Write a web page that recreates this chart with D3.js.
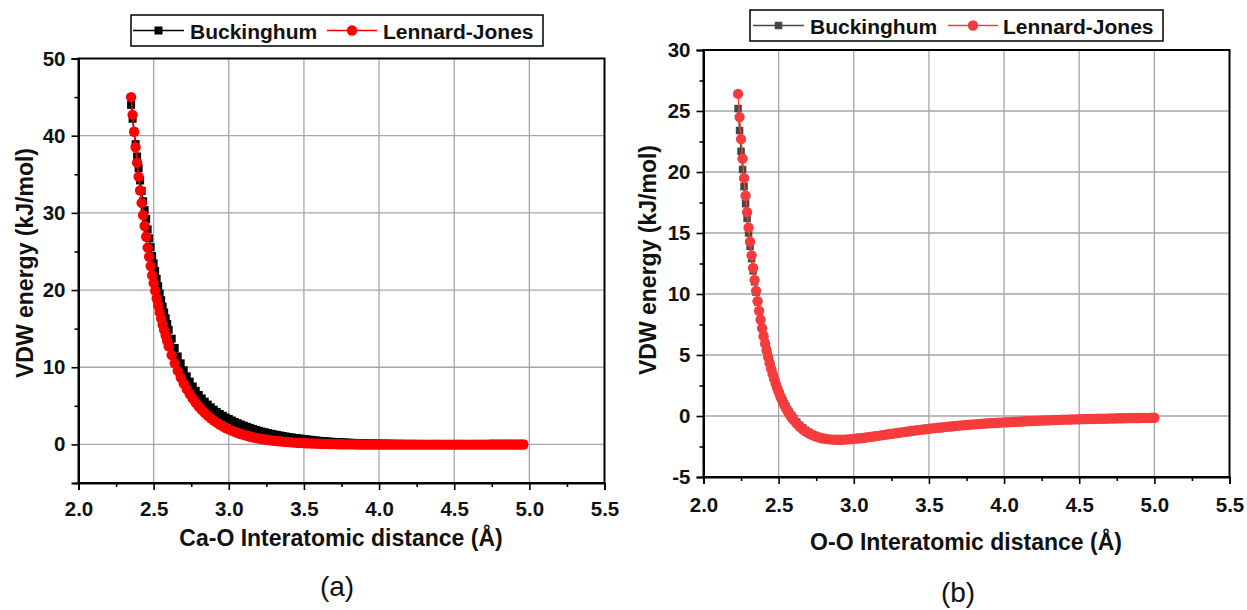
<!DOCTYPE html>
<html><head><meta charset="utf-8">
<script src="https://cdn.jsdelivr.net/npm/d3@7"></script>
<style>
html,body{margin:0;padding:0;background:#fff;}
svg text{font-family:"Liberation Sans",Arial,sans-serif;}
</style></head>
<body>
<svg id="chart" width="1247" height="610"></svg>
<script>
// ---------------- DATA ----------------
// Panel (a): Ca-O
const xA = [2.35,2.36,2.37,2.38,2.39,2.40,2.41,2.42,2.43,2.44,2.45,2.46,2.47,2.48,2.49,2.50,2.51,2.52,2.53,2.54,2.55,2.56,2.57,2.58,2.59,2.60,
2.62,2.64,2.66,2.68,2.70,2.72,2.74,2.76,2.78,2.80,
2.82,2.84,2.86,2.88,2.90,2.92,2.94,2.96,2.98,3.00,
3.02,3.04,3.06,3.08,3.10,3.12,3.14,3.16,3.18,3.20,
3.22,3.24,3.26,3.28,3.30,3.32,3.34,3.36,3.38,3.40,
3.42,3.44,3.46,3.48,3.50,3.52,3.54,3.56,3.58,3.60,
3.62,3.64,3.66,3.68,3.70,3.72,3.74,3.76,3.78,3.80,
3.82,3.84,3.86,3.88,3.90,3.92,3.94,3.96,3.98,4.00,
4.02,4.04,4.06,4.08,4.10,4.12,4.14,4.16,4.18,4.20,
4.22,4.24,4.26,4.28,4.30,4.32,4.34,4.36,4.38,4.40,
4.42,4.44,4.46,4.48,4.50,4.52,4.54,4.56,4.58,4.60,
4.62,4.64,4.66,4.68,4.70,4.72,4.74,4.76,4.78,4.80,
4.82,4.84,4.86,4.88,4.90,4.92,4.94,4.96];
const buckinghamA = [44.0,42.2,40.5,38.9,37.3,35.8,34.2,32.85,31.5,30.35,29.2,27.85,26.7,25.55,24.4,23.45,22.45,21.45,20.5,19.55,18.7,17.85,17.1,16.35,15.6,14.85,
13.7,12.5,11.4,10.5,9.6,8.82,8.14,7.51,6.94,6.41,
5.96,5.54,5.16,4.81,4.49,4.21,3.95,3.71,3.49,3.30,
3.10,2.91,2.74,2.58,2.43,2.28,2.14,2.01,1.88,1.77,
1.66,1.57,1.47,1.38,1.30,1.23,1.16,1.09,1.02,0.96,
0.90,0.84,0.79,0.75,0.70,0.65,0.61,0.56,0.51,0.47,
0.44,0.41,0.37,0.35,0.32,0.30,0.28,0.26,0.24,0.22,
0.20,0.19,0.18,0.16,0.15,0.14,0.13,0.12,0.11,0.10,
0.10,0.09,0.09,0.08,0.08,0.07,0.07,0.07,0.06,0.06,
0.06,0.06,0.05,0.05,0.05,0.05,0.05,0.04,0.04,0.04,
0.04,0.04,0.04,0.03,0.03,0.03,0.03,0.03,0.03,0.03,
0.03,0.03,0.02,0.02,0.02,0.02,0.02,0.02,0.02,0.02,
0.02,0.02,0.02,0.02,0.02,0.01,0.01,0.01];
const lennardJonesA = [45.0,42.7,40.5,38.5,36.5,34.7,32.9,31.3,29.7,28.3,26.9,25.5,24.3,23.1,21.9,20.9,19.9,18.9,18.0,17.1,16.3,15.5,14.8,14.1,13.4,12.7,
11.56,10.50,9.53,8.66,7.88,7.16,6.52,5.93,5.40,4.91,
4.48,4.08,3.72,3.39,3.09,2.82,2.57,2.34,2.13,1.95,
1.78,1.62,1.48,1.35,1.23,1.12,1.02,0.93,0.84,0.77,
0.70,0.64,0.58,0.52,0.48,0.44,0.40,0.36,0.32,0.29,
0.26,0.23,0.21,0.18,0.16,0.15,0.13,0.12,0.10,0.09,
0.08,0.07,0.06,0.05,0.04,0.03,0.02,0.02,0.01,0.01,
0.00,0.00,-0.01,-0.01,-0.01,-0.02,-0.02,-0.02,-0.02,-0.03,
-0.03,-0.03,-0.03,-0.03,-0.03,-0.03,-0.03,-0.03,-0.03,-0.03,
-0.03,-0.03,-0.03,-0.03,-0.03,-0.03,-0.03,-0.03,-0.03,-0.03,
-0.03,-0.03,-0.03,-0.03,-0.03,-0.03,-0.03,-0.03,-0.03,-0.03,
-0.03,-0.03,-0.03,-0.03,-0.03,-0.03,-0.02,-0.02,-0.02,-0.02,
-0.02,-0.02,-0.02,-0.02,-0.02,-0.02,-0.02,-0.02];

// Panel (b): O-O
const xB = [2.23,2.24,2.25,2.26,2.27,2.28,2.29,2.30,2.31,2.32,2.33,2.34,2.35,2.36,2.37,2.38,2.39,2.40,2.41,2.42,2.43,2.44,2.45,2.46,2.47,2.48,2.49,2.50,2.51,2.52,2.53,2.54,2.55,2.56,2.57,2.58,2.59,2.60,
2.62,2.64,2.66,2.68,2.70,2.72,2.74,2.76,2.78,2.80,
2.82,2.84,2.86,2.88,2.90,2.92,2.94,2.96,2.98,3.00,
3.02,3.04,3.06,3.08,3.10,3.12,3.14,3.16,3.18,3.20,
3.22,3.24,3.26,3.28,3.30,3.32,3.34,3.36,3.38,3.40,
3.42,3.44,3.46,3.48,3.50,3.52,3.54,3.56,3.58,3.60,
3.62,3.64,3.66,3.68,3.70,3.72,3.74,3.76,3.78,3.80,
3.82,3.84,3.86,3.88,3.90,3.92,3.94,3.96,3.98,4.00,
4.02,4.04,4.06,4.08,4.10,4.12,4.14,4.16,4.18,4.20,
4.22,4.24,4.26,4.28,4.30,4.32,4.34,4.36,4.38,4.40,
4.42,4.44,4.46,4.48,4.50,4.52,4.54,4.56,4.58,4.60,
4.62,4.64,4.66,4.68,4.70,4.72,4.74,4.76,4.78,4.80,
4.82,4.84,4.86,4.88,4.90,4.92,4.94,4.96,4.98,5.00];
const buckinghamB = [25.2,23.4,21.7,20.2,18.8,17.4,16.2,15.0,13.9,12.9,11.9,11.0,10.15,9.35,8.6,7.9,7.2,6.6,6.0,5.45,4.93,4.44,3.98,3.55,3.15,2.77,2.42,2.09,1.78,1.49,1.22,0.97,0.74,0.52,0.32,0.13,-0.04,-0.20,
-0.50,-0.76,-0.98,-1.17,-1.33,-1.47,-1.58,-1.68,-1.76,-1.82,
-1.87,-1.91,-1.93,-1.95,-1.96,-1.96,-1.95,-1.94,-1.92,-1.90,
-1.87,-1.84,-1.81,-1.78,-1.74,-1.71,-1.67,-1.64,-1.60,-1.56,
-1.53,-1.49,-1.45,-1.42,-1.38,-1.35,-1.31,-1.28,-1.24,-1.21,
-1.18,-1.15,-1.12,-1.09,-1.06,-1.03,-1.00,-0.97,-0.95,-0.92,
-0.90,-0.87,-0.85,-0.82,-0.80,-0.78,-0.76,-0.74,-0.72,-0.70,
-0.68,-0.66,-0.64,-0.62,-0.61,-0.59,-0.57,-0.56,-0.54,-0.53,
-0.51,-0.50,-0.49,-0.47,-0.46,-0.45,-0.44,-0.43,-0.42,-0.40,
-0.39,-0.38,-0.37,-0.36,-0.35,-0.34,-0.33,-0.33,-0.32,-0.31,
-0.30,-0.29,-0.29,-0.28,-0.27,-0.26,-0.26,-0.25,-0.24,-0.24,
-0.23,-0.23,-0.22,-0.21,-0.21,-0.20,-0.20,-0.19,-0.19,-0.18,
-0.18,-0.17,-0.17,-0.16,-0.16,-0.16,-0.15,-0.15,-0.14,-0.14];
const lennardJonesB = [26.4,24.5,22.7,21.1,19.5,18.05,16.7,15.45,14.28,13.17,12.13,11.16,10.26,9.41,8.62,7.88,7.19,6.54,5.93,5.36,4.83,4.33,3.87,3.43,3.03,2.65,2.29,1.96,1.65,1.36,1.09,0.84,0.61,0.39,0.19,0.00,-0.17,-0.34,
-0.63,-0.88,-1.09,-1.27,-1.42,-1.54,-1.65,-1.73,-1.80,-1.85,
-1.89,-1.92,-1.94,-1.95,-1.95,-1.95,-1.94,-1.92,-1.90,-1.88,
-1.85,-1.82,-1.80,-1.76,-1.73,-1.70,-1.66,-1.63,-1.59,-1.55,
-1.52,-1.48,-1.45,-1.41,-1.37,-1.34,-1.30,-1.27,-1.23,-1.20,
-1.17,-1.14,-1.11,-1.08,-1.05,-1.02,-0.99,-0.96,-0.94,-0.91,
-0.89,-0.86,-0.84,-0.81,-0.79,-0.77,-0.75,-0.73,-0.71,-0.69,
-0.67,-0.65,-0.63,-0.62,-0.60,-0.58,-0.57,-0.55,-0.54,-0.52,
-0.51,-0.50,-0.48,-0.47,-0.46,-0.45,-0.43,-0.42,-0.41,-0.40,
-0.39,-0.38,-0.37,-0.36,-0.35,-0.34,-0.33,-0.32,-0.31,-0.30,
-0.30,-0.29,-0.28,-0.28,-0.27,-0.26,-0.25,-0.25,-0.24,-0.24,
-0.23,-0.23,-0.22,-0.22,-0.21,-0.20,-0.20,-0.19,-0.19,-0.18,
-0.18,-0.17,-0.17,-0.16,-0.16,-0.15,-0.15,-0.15,-0.14,-0.14];

const seriesNames = ["Buckinghum", "Lennard-Jones"];
const xTicks = [2.0,2.5,3.0,3.5,4.0,4.5,5.0,5.5];
const xMinorTicks = [2.25,2.75,3.25,3.75,4.25,4.75,5.25];
const yTicksA = [0,10,20,30,40,50];
const yMinorTicksA = [-5,5,15,25,35,45];
const yTicksB = [-5,0,5,10,15,20,25,30];
const yMinorTicksB = [-2.5,2.5,7.5,12.5,17.5,22.5,27.5];
const xTitles = ["Ca-O Interatomic distance (Å)", "O-O Interatomic distance (Å)"];
const yTitle = "VDW energy (kJ/mol)";
const panelLabels = ["(a)", "(b)"];

// ---------------- DRAW ----------------
const svg = d3.select("#chart");

const panels = [
  {x: xA, buck: buckinghamA, lj: lennardJonesA, yDomain: [-5, 50], yTicks: yTicksA, yMinor: yMinorTicksA,
   left: 78.5, right: 604.5, top: 58.5, bottom: 483,
   buckColor: "#000000", ljColor: "#ff0000", sq: 8, r: 5.2,
   xTitle: xTitles[0], xTitlePos: [341, 546], yTitlePos: [33, 263], label: panelLabels[0], labelPos: [337, 596],
   legend: {x: 131, y: 15, w: 412, h: 31, l1: [133, 184], t1: 190, l2: [327, 377], t2: 383, base: 38.5},
   xPad: 11},
  {x: xB, buck: buckinghamB, lj: lennardJonesB, yDomain: [-5, 30], yTicks: yTicksB, yMinor: yMinorTicksB,
   left: 703.5, right: 1229.5, top: 50, bottom: 477,
   buckColor: "#454545", ljColor: "#f53c3c", sq: 7.5, r: 5.2,
   xTitle: xTitles[1], xTitlePos: [966, 550], yTitlePos: [656, 260], label: panelLabels[1], labelPos: [958, 602],
   legend: {x: 750, y: 10, w: 413, h: 31, l1: [753, 804], t1: 810, l2: [948, 998], t2: 1003, base: 33.5},
   xPad: 13}
];

const intFmt = d => String(d);   // plain hyphen-minus like the reference

panels.forEach(p => {
  const g = svg.append("g");
  const x = d3.scaleLinear().domain([2.0, 5.5]).range([p.left, p.right]);
  const y = d3.scaleLinear().domain(p.yDomain).range([p.bottom, p.top]);

  // grid
  g.append("g").selectAll("line").data(xTicks.filter(v => v > 2.0 && v < 5.5)).join("line")
    .attr("x1", d => x(d)).attr("x2", d => x(d)).attr("y1", p.top).attr("y2", p.bottom)
    .attr("stroke", "#a6a6a6").attr("stroke-width", 1.3);
  g.append("g").selectAll("line").data(p.yTicks.filter(v => v > p.yDomain[0] && v < p.yDomain[1])).join("line")
    .attr("x1", p.left).attr("x2", p.right).attr("y1", d => y(d)).attr("y2", d => y(d))
    .attr("stroke", "#a6a6a6").attr("stroke-width", 1.3);

  const dataB = p.x.map((v, i) => [v, p.buck[i]]);
  const dataL = p.x.map((v, i) => [v, p.lj[i]]);
  const line = d3.line().x(d => x(d[0])).y(d => y(d[1]));

  // Buckingham
  g.append("path").datum(dataB).attr("d", line).attr("fill", "none")
    .attr("stroke", p.buckColor).attr("stroke-width", 1.5);
  g.append("g").selectAll("rect").data(dataB).join("rect")
    .attr("x", d => x(d[0]) - p.sq / 2).attr("y", d => y(d[1]) - p.sq / 2)
    .attr("width", p.sq).attr("height", p.sq).attr("fill", p.buckColor);

  // Lennard-Jones
  g.append("path").datum(dataL).attr("d", line).attr("fill", "none")
    .attr("stroke", p.ljColor).attr("stroke-width", 1.5);
  g.append("g").selectAll("circle").data(dataL).join("circle")
    .attr("cx", d => x(d[0])).attr("cy", d => y(d[1])).attr("r", p.r).attr("fill", p.ljColor);

  // axes
  const fontStyle = sel => sel.selectAll("text").attr("font-size", 20.5).attr("font-weight", "bold")
    .attr("fill", "#111").attr("font-family", '"Liberation Sans", Arial, sans-serif');

  const xAxis = g.append("g").attr("transform", `translate(0,${p.bottom})`)
    .call(d3.axisBottom(x).tickValues(xTicks).tickFormat(d3.format(".1f")).tickSize(7).tickPadding(p.xPad));
  xAxis.call(fontStyle);
  g.append("g").attr("transform", `translate(0,${p.bottom})`)
    .call(d3.axisBottom(x).tickValues(xMinorTicks).tickFormat("").tickSize(4))
    .call(s => s.select(".domain").remove());

  const yAxis = g.append("g").attr("transform", `translate(${p.left},0)`)
    .call(d3.axisLeft(y).tickValues(p.yTicks).tickFormat(intFmt).tickSize(7).tickPadding(6));
  yAxis.call(fontStyle);
  g.append("g").attr("transform", `translate(${p.left},0)`)
    .call(d3.axisLeft(y).tickValues(p.yMinor).tickFormat("").tickSize(4))
    .call(s => s.select(".domain").remove());

  g.selectAll(".tick line").attr("stroke", "#000").attr("stroke-width", 1.6);
  g.selectAll(".domain").attr("stroke", "#000").attr("stroke-width", 2);

  // frame
  g.append("rect").attr("x", p.left).attr("y", p.top).attr("width", p.right - p.left).attr("height", p.bottom - p.top)
    .attr("fill", "none").attr("stroke", "#000").attr("stroke-width", 2);

  // titles
  g.append("text").attr("x", p.xTitlePos[0]).attr("y", p.xTitlePos[1]).attr("text-anchor", "middle")
    .attr("font-size", 23).attr("font-weight", "bold").attr("fill", "#111").text(p.xTitle);
  g.append("text").attr("transform", `translate(${p.yTitlePos[0]},${p.yTitlePos[1]}) rotate(-90)`)
    .attr("text-anchor", "middle").attr("font-size", 23).attr("font-weight", "bold").attr("fill", "#111").text(yTitle);
  g.append("text").attr("x", p.labelPos[0]).attr("y", p.labelPos[1]).attr("text-anchor", "middle")
    .attr("font-size", 28).attr("fill", "#111").text(p.label);

  // legend
  const L = p.legend;
  const lg = g.append("g");
  lg.append("rect").attr("x", L.x).attr("y", L.y).attr("width", L.w).attr("height", L.h)
    .attr("fill", "#fff").attr("stroke", "#000").attr("stroke-width", 1.5);
  const cy = L.y + L.h / 2;
  lg.append("line").attr("x1", L.l1[0]).attr("x2", L.l1[1]).attr("y1", cy).attr("y2", cy)
    .attr("stroke", p.buckColor).attr("stroke-width", 1.5);
  lg.append("rect").attr("x", (L.l1[0] + L.l1[1]) / 2 - p.sq / 2).attr("y", cy - p.sq / 2)
    .attr("width", p.sq).attr("height", p.sq).attr("fill", p.buckColor);
  lg.append("text").attr("x", L.t1).attr("y", L.base).attr("font-size", 21).attr("font-weight", "bold")
    .attr("fill", "#111").text(seriesNames[0]);
  lg.append("line").attr("x1", L.l2[0]).attr("x2", L.l2[1]).attr("y1", cy).attr("y2", cy)
    .attr("stroke", p.ljColor).attr("stroke-width", 1.5);
  lg.append("circle").attr("cx", (L.l2[0] + L.l2[1]) / 2).attr("cy", cy).attr("r", p.r).attr("fill", p.ljColor);
  lg.append("text").attr("x", L.t2).attr("y", L.base).attr("font-size", 21).attr("font-weight", "bold")
    .attr("fill", "#111").text(seriesNames[1]);
});
</script>
</body></html>
